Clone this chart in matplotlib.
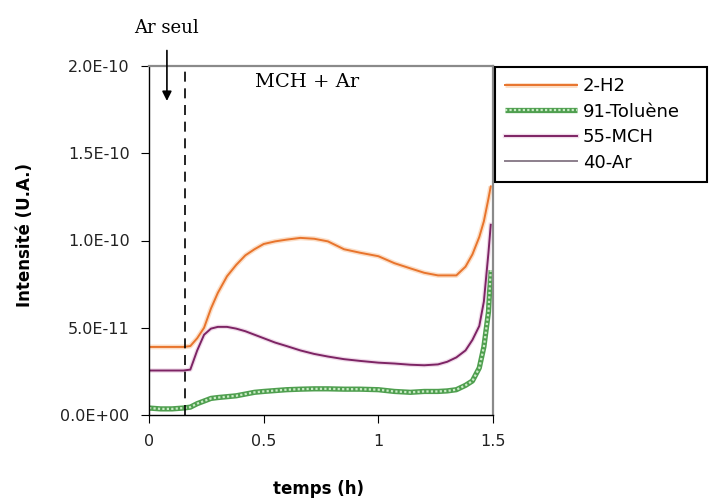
import numpy as np
import matplotlib.pyplot as plt

# temps (h) et intensites (unite 1e-11)
temps = [0, 0.05, 0.10, 0.15, 0.18, 0.21, 0.24, 0.27, 0.30, 0.34, 0.38, 0.42,
         0.46, 0.50, 0.55, 0.60, 0.66, 0.72, 0.78, 0.85, 0.92, 1.00, 1.07,
         1.14, 1.20, 1.26, 1.30, 1.34, 1.38, 1.41, 1.44, 1.46, 1.48, 1.49]
h2 = [3.9, 3.9, 3.9, 3.9, 3.95, 4.4, 5.0, 6.1, 7.0, 7.95, 8.6, 9.15, 9.5,
      9.8, 9.95, 10.05, 10.15, 10.1, 9.95, 9.5, 9.3, 9.1, 8.7, 8.4, 8.15,
      8.0, 8.0, 8.0, 8.5, 9.2, 10.2, 11.1, 12.4, 13.1]
toluene = [0.4, 0.35, 0.35, 0.4, 0.45, 0.65, 0.8, 0.95, 1.0, 1.05, 1.1, 1.2,
           1.3, 1.35, 1.4, 1.45, 1.48, 1.5, 1.5, 1.48, 1.48, 1.45, 1.35, 1.3,
           1.35, 1.35, 1.38, 1.45, 1.7, 1.95, 2.7, 3.9, 5.9, 8.3]
mch = [2.55, 2.55, 2.55, 2.55, 2.6, 3.7, 4.6, 4.95, 5.05, 5.05, 4.95, 4.8,
       4.6, 4.4, 4.15, 3.95, 3.7, 3.5, 3.35, 3.2, 3.1, 3.0, 2.95, 2.88, 2.85,
       2.9, 3.05, 3.3, 3.7, 4.3, 5.1, 6.5, 9.3, 10.9]
# Ar : hors echelle (au-dessus de 2E-10)
temps_ar = [0, 1.49]
ar = [30.0, 30.0]

labels = ['2-H2', '91-Toluène', '55-MCH', '40-Ar']
xticks = [0, 0.5, 1, 1.5]
xtick_labels = ['0', '0.5', '1', '1.5']
yticks = [0, 5e-11, 1e-10, 1.5e-10, 2e-10]
ytick_labels = ['0.0E+00', '5.0E-11', '1.0E-10', '1.5E-10', '2.0E-10']
t_switch = 0.157

t = np.array(temps)
s = 1e-11

fig = plt.figure(figsize=(7.09, 5.0), dpi=100)
ax = fig.add_axes([0.2102, 0.17, 0.4852, 0.698])

# orange avec halo
o_halo, = ax.plot(t, np.array(h2) * s, color='#f9c9a3', lw=3.5, alpha=0.6,
                  solid_capstyle='butt')
o_line, = ax.plot(t, np.array(h2) * s, color='#e8742c', lw=1.4)
# vert epais a motif
g_base, = ax.plot(t, np.array(toluene) * s, color='#4f9f4f', lw=3.8,
                  solid_capstyle='butt')
g_top, = ax.plot(t, np.array(toluene) * s, color='#c9ebc5', lw=1.6,
                 dashes=(1.0, 1.0))
p_halo, = ax.plot(t, np.array(mch) * s, color='#e7c3dc', lw=3.2, alpha=0.6)
p_line, = ax.plot(t, np.array(mch) * s, color='#7d2464', lw=1.4)
a_line, = ax.plot(temps_ar, np.array(ar) * s, color='#8c7f8c', lw=1.4)

ax.axvline(t_switch, color='black', lw=1.2, dashes=(6, 4))

ax.set_xlim(0, 1.5)
ax.set_ylim(0, 2e-10)
ax.set_xticks(xticks)
ax.set_xticklabels(xtick_labels)
ax.set_yticks(yticks)
ax.set_yticklabels(ytick_labels)
ax.tick_params(axis='both', labelsize=11.5, color='black', length=6,
               labelcolor='#222222')
ax.tick_params(axis='x', pad=8)
ax.tick_params(axis='y', pad=8)

for side in ['left', 'bottom']:
    ax.spines[side].set_color('black')
    ax.spines[side].set_linewidth(1.0)
for side in ['top', 'right']:
    ax.spines[side].set_color('#8a8a8a')
    ax.spines[side].set_linewidth(1.6)

ax.set_xlabel('temps (h)', fontsize=12, fontweight='bold')
ax.set_ylabel('Intensité (U.A.)', fontsize=12, fontweight='bold')
ax.xaxis.set_label_coords(0.494, -0.185)
ax.yaxis.set_label_coords(-0.335, 0.516)

# annotations
ax.text(0.69, 1.91e-10, 'MCH + Ar', family='DejaVu Serif', fontsize=14,
        ha='center', va='center')
ax.annotate('Ar seul', xy=(0.078, 1.80e-10), xytext=(0.078, 2.22e-10),
            family='DejaVu Serif', fontsize=13, ha='center', va='center',
            annotation_clip=False,
            arrowprops=dict(arrowstyle='-|>', color='black', lw=1.2,
                            mutation_scale=14, shrinkA=8, shrinkB=0))

leg = ax.legend([(o_halo, o_line), (g_base, g_top), (p_halo, p_line), a_line],
                labels, loc='upper left', bbox_to_anchor=(0.6982, 0.866, 0.2995, 0),
                bbox_transform=fig.transFigure, mode='expand', borderaxespad=0,
                fontsize=13, handlelength=4.0, handletextpad=0.3,
                labelspacing=0.42, borderpad=0.55, fancybox=False,
                framealpha=1)
leg.get_frame().set_edgecolor('black')
leg.get_frame().set_linewidth(1.5)

plt.savefig('out.png', dpi=100)
